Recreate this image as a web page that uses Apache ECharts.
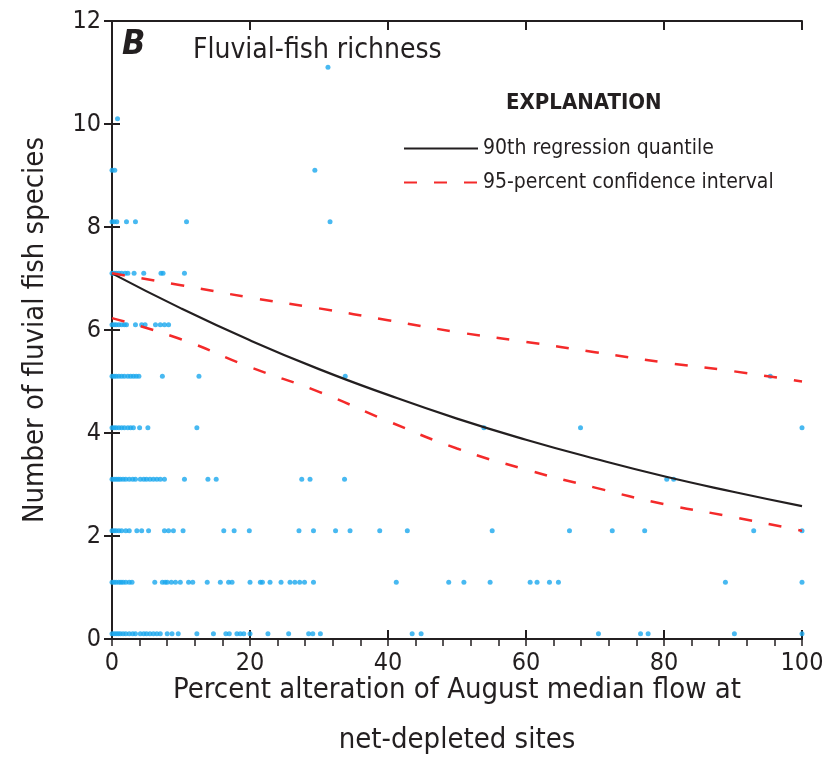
<!DOCTYPE html>
<html>
<head>
<meta charset="utf-8">
<script src="https://cdn.jsdelivr.net/npm/echarts@6/dist/echarts.min.js"></script>
<style>
  html, body { margin: 0; padding: 0; background: #fff; }
  #chart { width: 835px; height: 761px; }
</style>
</head>
<body>
<div id="chart"></div>
<script>
// plotted height of each row of sites (species count, drawn a little above the integer)
var rowY = [0.1, 1.1, 2.1, 3.1, 4.1, 5.1, 6.1, 7.1, 8.1, 9.1, 10.1, 11.1];

// percent alteration of each site, one list per row
var rowX = [
    [0, 0.3, 0.6, 0.9, 1.2, 1.6, 2.0, 2.5, 3.0, 3.4, 4.1, 4.6, 5.0, 5.5, 6.0, 6.5, 7.0, 8.0, 8.7, 9.6, 12.3, 14.7, 16.5, 17.0, 18.1, 18.6, 19.1, 20.0, 22.6, 25.6, 28.5, 29.1, 30.2, 43.5, 44.8, 70.5, 76.6, 77.7, 90.2, 100],
    [0, 0.3, 0.6, 1.0, 1.3, 1.6, 2.0, 2.5, 2.9, 6.2, 7.3, 7.7, 8.0, 8.6, 9.2, 9.9, 11.1, 11.7, 13.8, 15.7, 16.9, 17.4, 20.0, 21.5, 21.8, 22.9, 24.5, 25.8, 26.5, 27.2, 27.9, 29.2, 41.2, 48.8, 51.0, 54.8, 60.6, 61.6, 63.4, 64.7, 88.9, 100],
    [0, 0.3, 0.6, 1.0, 1.4, 2.0, 2.5, 3.6, 4.3, 5.3, 7.6, 8.2, 8.9, 10.3, 16.2, 17.7, 19.9, 27.1, 29.2, 32.4, 34.5, 38.8, 42.8, 55.1, 66.3, 72.5, 77.2, 93.0, 100],
    [0, 0.3, 0.6, 0.9, 1.2, 1.6, 2.0, 2.5, 3.0, 3.4, 4.1, 4.6, 5.0, 5.5, 6.0, 6.5, 7.0, 7.6, 10.5, 13.9, 15.1, 27.5, 28.7, 33.7, 80.4, 81.4],
    [0, 0.3, 0.6, 1.0, 1.4, 1.8, 2.3, 2.7, 3.1, 4.0, 5.2, 12.3, 53.9, 67.9, 100],
    [0, 0.3, 0.6, 1.0, 1.4, 1.8, 2.3, 2.7, 3.1, 3.5, 3.9, 7.3, 12.6, 33.8, 95.4],
    [0, 0.3, 0.6, 1.0, 1.4, 1.8, 2.1, 3.4, 4.3, 4.8, 6.3, 7.0, 7.6, 8.2],
    [0, 0.3, 0.6, 1.0, 1.4, 1.9, 2.3, 3.2, 4.6, 7.1, 7.4, 10.5],
    [0, 0.3, 0.7, 2.1, 3.4, 10.8, 31.6],
    [0, 0.4, 29.4],
    [0.8],
    [31.3]
];

// regression curves
var curveX = [0, 10, 20, 30, 40, 50, 60, 70, 80, 90, 100];
var quantile90 = [7.10, 6.42, 5.80, 5.24, 4.74, 4.28, 3.87, 3.50, 3.16, 2.86, 2.58];
var upperCI = [7.10, 6.87, 6.63, 6.42, 6.19, 5.96, 5.77, 5.57, 5.37, 5.20, 5.00];
var lowerCI = [6.23, 5.82, 5.28, 4.80, 4.23, 3.70, 3.29, 2.94, 2.62, 2.37, 2.10];

var FONT = '"Liberation Sans Narrow", "DejaVu Sans Condensed", sans-serif';
var INK = '#231f20';
var RED = '#f42a2a';
var DOT = '#1aa7ee';

function pairs(xs, ys) {
    return xs.map(function (x, i) { return [x, ys[i]]; });
}

var sites = [];
rowX.forEach(function (xs, r) {
    xs.forEach(function (x) { sites.push([x, rowY[r]]); });
});

var myChart = echarts.init(document.getElementById('chart'));

var dashStyle = { color: RED, width: 2.5, type: [13, 17] };

myChart.setOption({
    animation: false,
    backgroundColor: '#fff',
    grid: { left: 112, right: 33, top: 21, bottom: 122, outerBoundsMode: 'none', containLabel: false },
    legend: {
        orient: 'vertical',
        left: 398,
        top: 133,
        itemWidth: 74,
        itemHeight: 14,
        itemGap: 13,
        itemStyle: { opacity: 0 },
        textStyle: { fontFamily: FONT, fontSize: 21, color: INK, padding: [0, 0, 0, 0] },
        data: ['90th regression quantile', '95-percent confidence interval']
    },
    xAxis: [
        {
            type: 'value', position: 'bottom', min: 0, max: 100, interval: 20,
            name: 'Percent alteration of August median flow at\nnet-depleted sites',
            nameLocation: 'middle', nameGap: 26, nameMoveOverlap: false,
            nameTextStyle: { fontFamily: FONT, fontSize: 29, color: INK, lineHeight: 50, verticalAlign: 'top' },
            axisLine: { lineStyle: { color: INK, width: 2 } },
            axisTick: { inside: true, length: 9, lineStyle: { color: INK, width: 2 } },
            axisLabel: { fontFamily: FONT, fontSize: 25, color: INK, margin: 12 },
            splitLine: { show: false }
        },
        {
            type: 'value', position: 'bottom', min: 0, max: 100, interval: 4,
            axisLine: { show: false },
            axisTick: { inside: false, length: 7, lineStyle: { color: INK, width: 1.5 } },
            axisLabel: { show: false },
            splitLine: { show: false }
        },
        {
            type: 'value', position: 'top', min: 0, max: 100, interval: 20,
            axisLine: { lineStyle: { color: INK, width: 2 } },
            axisTick: { inside: true, length: 9, lineStyle: { color: INK, width: 2 } },
            axisLabel: { show: false },
            splitLine: { show: false }
        }
    ],
    yAxis: [
        {
            type: 'value', position: 'left', min: 0, max: 12, interval: 2,
            name: 'Number of fluvial fish species',
            nameLocation: 'middle', nameGap: 62,
            nameTextStyle: { fontFamily: FONT, fontSize: 29, color: INK },
            axisLine: { show: true, lineStyle: { color: INK, width: 2 } },
            axisTick: { show: true, inside: false, length: 8, lineStyle: { color: INK, width: 2 } },
            axisLabel: { fontFamily: FONT, fontSize: 25, color: INK, margin: 11 },
            splitLine: { show: false }
        },
        {
            type: 'value', position: 'right', min: 0, max: 12, interval: 2,
            axisLine: { show: true, lineStyle: { color: INK, width: 2 } },
            axisTick: { show: true, inside: false, length: 8, lineStyle: { color: INK, width: 2 } },
            axisLabel: { show: false },
            splitLine: { show: false }
        }
    ],
    graphic: [
        { type: 'text', left: 122, top: 28, style: { text: 'B', font: 'italic bold 34px ' + FONT, fill: INK } },
        { type: 'text', left: 193, top: 37, style: { text: 'Fluvial-fish richness', font: '28px ' + FONT, fill: INK } },
        { type: 'text', left: 506, top: 92, style: { text: 'EXPLANATION', font: 'bold 22px ' + FONT, fill: INK } }
    ],
    series: [
        {
            name: 'sites', type: 'scatter', data: sites, clip: false,
            symbol: 'circle', symbolSize: 5,
            itemStyle: { color: DOT }, z: 3
        },
        {
            name: '90th regression quantile', type: 'line', data: pairs(curveX, quantile90),
            smooth: true, symbol: 'none',
            lineStyle: { color: INK, width: 2.2 }, itemStyle: { color: INK }, z: 4
        },
        {
            name: '95-percent confidence interval', type: 'line', data: pairs(curveX, upperCI),
            smooth: true, symbol: 'none',
            lineStyle: dashStyle, itemStyle: { color: RED }, z: 4
        },
        {
            name: '95-percent confidence interval', type: 'line', data: pairs(curveX, lowerCI),
            smooth: true, symbol: 'none',
            lineStyle: dashStyle, itemStyle: { color: RED }, z: 4
        }
    ]
});
</script>
</body>
</html>
